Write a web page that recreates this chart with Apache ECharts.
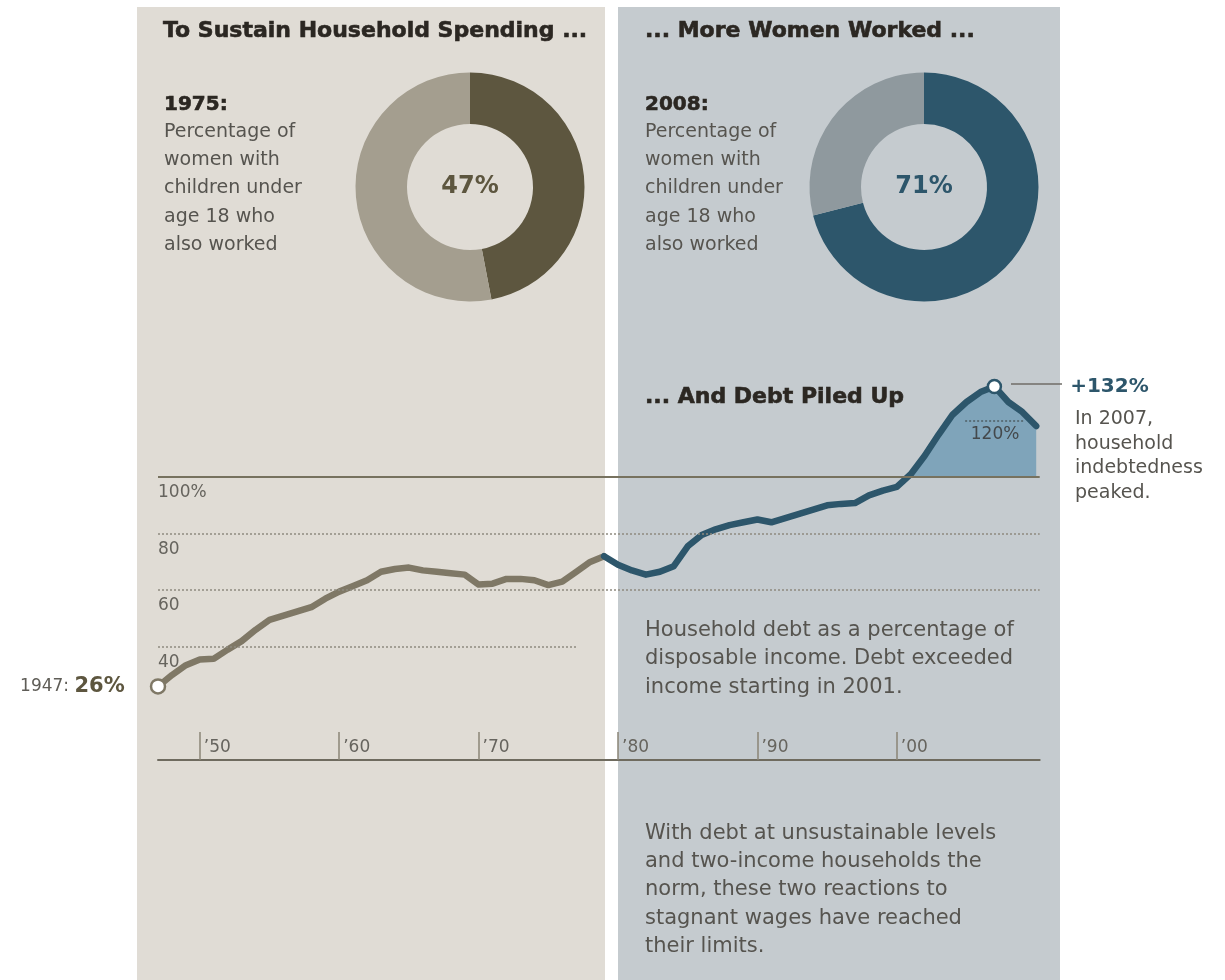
<!DOCTYPE html>
<html><head><meta charset="utf-8">
<script src="https://cdn.jsdelivr.net/npm/echarts@6/dist/echarts.min.js"></script>
<style>html,body{margin:0;padding:0;background:#fff}#c{width:1225px;height:980px}</style>
</head><body><div id="c"></div>
<script>
// ---- data ----
const years = [1947,1948,1949,1950,1951,1952,1953,1954,1955,1956,1957,1958,1959,1960,1961,1962,1963,1964,1965,1966,1967,1968,1969,1970,1971,1972,1973,1974,1975,1976,1977,1978,1979,1980,1981,1982,1983,1984,1985,1986,1987,1988,1989,1990,1991,1992,1993,1994,1995,1996,1997,1998,1999,2000,2001,2002,2003,2004,2005,2006,2007,2008,2009,2010];
const debt = [26,30,33.5,35.5,35.8,39,42,46,49.5,51,52.5,54,57,59.5,61.5,63.5,66.5,67.5,68,67,66.5,66,65.5,62,62.3,64,64,63.5,61.8,63,66.5,70,72,69,67,65.5,66.5,68.5,75.5,79.5,81.5,83,84,85,84,85.5,87,88.5,90,90.5,90.8,93.5,95.2,96.5,101,107.5,115,122,126.5,130,132,126.5,123,118];
const splitYear = 1979;       // colour changes from grey to blue
const fillFromYear = 2001;    // debt exceeded income
const tickYears = [1950,1960,1970,1980,1990,2000];
const tickLabels = ["’50","’60","’70","’80","’90","’00"];
const yTickValues = [40,60,80,100];
const yTickLabels = ["40","60","80","100%"];
const women1975 = [47, 53];   // worked, did not
const women2008 = [71, 29];

// ---- build ----
const F = 'DejaVu Sans';
const pairs = years.map((y,i)=>[y, debt[i]]);
const greyData = pairs.filter(p=>p[0] <= splitYear);
const blueData = pairs.filter(p=>p[0] >= splitYear);
const fillData = pairs.filter(p=>p[0] >= fillFromYear);
let pk = 0; debt.forEach((v,i)=>{ if (v > debt[pk]) pk = i; });
const X0 = years[0], X1 = 2010.25;

const chart = echarts.init(document.getElementById('c'), null, {renderer:'canvas'});
const bodyFill = '#56544f';
const titleFill = '#2b2722';
const heavy = {stroke:titleFill, lineWidth:0.6};

const option = {
  animation: false,
  backgroundColor: '#ffffff',
  grid: {left:158, right:185.3, top:363.8, bottom:220, outerBoundsMode:'none'},
  xAxis: {
    type:'value', min:X0, max:X1,
    axisLine:{show:true, onZero:false, lineStyle:{color:'#6f6b5f', width:2}},
    axisTick:{show:true, inside:true, length:28, customValues:tickYears, lineStyle:{color:'#8a8577', width:1.5}},
    axisLabel:{inside:true, customValues:tickYears, formatter:v=>tickLabels[tickYears.indexOf(v)],
      align:'left', verticalAlign:'bottom', margin:4, padding:[0,0,0,4], color:'#66645e', fontSize:17, fontFamily:F},
    splitLine:{show:false}
  },
  yAxis: {
    type:'value', min:0, max:140,
    axisLine:{show:false}, axisTick:{show:false}, splitLine:{show:false},
    axisLabel:{inside:true, customValues:yTickValues, formatter:v=>yTickLabels[yTickValues.indexOf(v)],
      align:'left', verticalAlign:'top', margin:0, padding:[7,0,0,0], color:'#66645e', fontSize:17, fontFamily:F}
  },
  series: [
    {type:'pie', center:[470,187], radius:[63,114.5], startAngle:90, clockwise:true, silent:true,
     labelLine:{show:false}, emphasis:{disabled:true}, itemStyle:{borderWidth:0},
     label:{show:false},
     data:[
       {value:women1975[0], itemStyle:{color:'#5d563f'}, label:{show:true, position:'center', formatter:'{c}%', fontFamily:F, fontWeight:'bold', fontSize:24, color:'#5d563f'}},
       {value:women1975[1], itemStyle:{color:'#a49e8f'}}
     ]},
    {type:'pie', center:[924,187], radius:[63,114.5], startAngle:90, clockwise:true, silent:true,
     labelLine:{show:false}, emphasis:{disabled:true}, itemStyle:{borderWidth:0},
     label:{show:false},
     data:[
       {value:women2008[0], itemStyle:{color:'#2d566b'}, label:{show:true, position:'center', formatter:'{c}%', fontFamily:F, fontWeight:'bold', fontSize:24, color:'#2d566b'}},
       {value:women2008[1], itemStyle:{color:'#8f999e'}}
     ]},
    {type:'line', data:fillData, symbol:'none', silent:true, z:1,
     lineStyle:{width:0, opacity:0}, areaStyle:{color:'#7fa4ba', opacity:1, origin:100}},
    {type:'line', data:[[X0,100]], symbol:'none', silent:true, z:2, lineStyle:{opacity:0},
     markLine:{silent:true, symbol:['none','none'], animation:false,
       label:{show:false},
       lineStyle:{type:[2,2], color:'#8e8a80', width:1.5},
       data:[
         [{coord:[X0,100], lineStyle:{type:'solid', color:'#77725f', width:2}}, {coord:[X1,100]}],
         [{coord:[X0,80]}, {coord:[X1,80]}],
         [{coord:[X0,60]}, {coord:[X1,60]}],
         [{coord:[X0,40]}, {coord:[1977,40]}],
         [{coord:[2004.9,120], lineStyle:{color:'#4f5f66'}, label:{show:true, formatter:'120%', position:'insideMiddleBottom', distance:6, color:'#44494c', fontSize:17, fontFamily:F}}, {coord:[2009.2,120]}]
       ]}},
    {type:'line', data:greyData, symbol:'none', silent:true, z:3,
     lineStyle:{color:'#7f7866', width:6.5, cap:'round', join:'round'}},
    {type:'line', data:blueData, symbol:'none', silent:true, z:3,
     lineStyle:{color:'#2d566b', width:6.5, cap:'round', join:'round'}},
    {type:'scatter', silent:true, z:5, symbol:'circle', itemStyle:{opacity:1},
     data:[
       {value:[years[0], debt[0]], symbolSize:14,
        itemStyle:{color:'#ffffff', borderColor:'#7f7866', borderWidth:2.5, opacity:1},
        label:{show:true, position:'left', distance:25,
          formatter:'{a|'+years[0]+': }{b|'+debt[0]+'%}',
          rich:{a:{fontFamily:F, fontSize:17, color:'#5f5d57'}, b:{fontFamily:F, fontSize:21, fontWeight:'bold', color:'#5d563f'}}}},
       {value:[years[pk], debt[pk]], symbolSize:13,
        itemStyle:{color:'#ffffff', borderColor:'#2d566b', borderWidth:2.5, opacity:1},
        label:{show:true, position:'right', distance:68, formatter:'+'+debt[pk]+'%',
          fontFamily:F, fontSize:20, fontWeight:'bold', color:'#2d566b'}}
     ]}
  ],
  graphic: [
    {type:'rect', z:-10, shape:{x:137, y:7, width:468, height:973}, style:{fill:'#e0dcd5'}},
    {type:'rect', z:-10, shape:{x:618, y:7, width:442, height:973}, style:{fill:'#c5cbcf'}},
    {type:'text', x:163, y:31, style:Object.assign({text:'To Sustain Household Spending ...', font:'bold 22px "DejaVu Sans"', fill:titleFill, verticalAlign:'middle'}, heavy)},
    {type:'text', x:645, y:31, style:Object.assign({text:'... More Women Worked ...', font:'bold 22px "DejaVu Sans"', fill:titleFill, verticalAlign:'middle'}, heavy)},
    {type:'text', x:164, y:105, style:Object.assign({text:'1975:', font:'bold 20px "DejaVu Sans"', fill:titleFill, verticalAlign:'middle'}, heavy)},
    {type:'text', x:645, y:105, style:Object.assign({text:'2008:', font:'bold 20px "DejaVu Sans"', fill:titleFill, verticalAlign:'middle'}, heavy)},
    {type:'text', x:164, y:117.8, style:{text:'Percentage of\nwomen with\nchildren under\nage 18 who\nalso worked', font:'19px "DejaVu Sans"', lineHeight:28.3, fill:bodyFill, verticalAlign:'top'}},
    {type:'text', x:645, y:117.8, style:{text:'Percentage of\nwomen with\nchildren under\nage 18 who\nalso worked', font:'19px "DejaVu Sans"', lineHeight:28.3, fill:bodyFill, verticalAlign:'top'}},
    {type:'text', x:645, y:397, style:Object.assign({text:'... And Debt Piled Up', font:'bold 22px "DejaVu Sans"', fill:titleFill, verticalAlign:'middle'}, heavy)},
    {type:'text', x:645, y:616.5, style:{text:'Household debt as a percentage of\ndisposable income. Debt exceeded\nincome starting in 2001.', font:'21px "DejaVu Sans"', lineHeight:28.3, fill:bodyFill, verticalAlign:'top'}},
    {type:'text', x:645, y:819, style:{text:'With debt at unsustainable levels\nand two-income households the\nnorm, these two reactions to\nstagnant wages have reached\ntheir limits.', font:'21px "DejaVu Sans"', lineHeight:28.4, fill:bodyFill, verticalAlign:'top'}},
    {type:'line', shape:{x1:1011, y1:384, x2:1062, y2:384}, style:{stroke:'#6f6d67', lineWidth:1.5}},
    {type:'text', x:1075, y:407, style:{text:'In 2007,\nhousehold\nindebtedness\npeaked.', font:'19px "DejaVu Sans"', lineHeight:24.5, fill:bodyFill, verticalAlign:'top'}}
  ]
};
chart.setOption(option);
</script>
</body></html>
